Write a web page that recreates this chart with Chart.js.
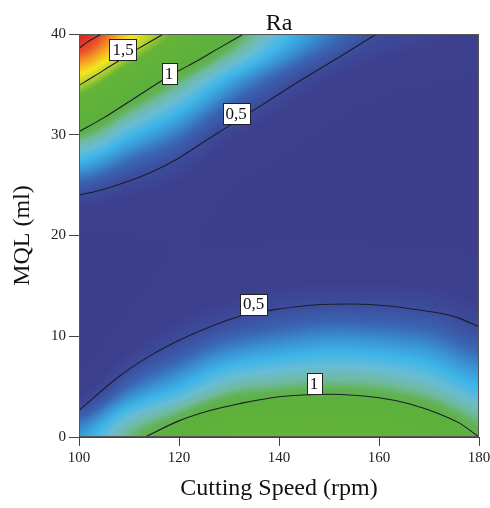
<!DOCTYPE html>
<html>
<head>
<meta charset="utf-8">
<script src="https://cdn.jsdelivr.net/npm/chart.js@4"></script>
<style>
  html, body { margin: 0; padding: 0; background: #fff; }
  #wrap { width: 490px; height: 508px; }
</style>
</head>
<body>
<div id="wrap"><canvas id="raChart" width="490" height="508"></canvas></div>
<script>
// surface: Ra at each MQL row (0..40 ml) and cutting speed column (100..180 rpm)
const speeds = [100, 110, 120, 130, 140, 150, 160, 170, 180];
const mqlLevels = [0, 5, 10, 15, 20, 25, 30, 35, 40];
const raGrid = [
    [0.68, 0.93, 1.10, 1.29, 1.33, 1.34, 1.29, 1.19, 1.00],
    [0.37, 0.59, 0.73, 0.88, 0.93, 0.95, 0.93, 0.86, 0.74],
    [0.21, 0.37, 0.48, 0.57, 0.62, 0.65, 0.64, 0.61, 0.53],
    [0.18, 0.28, 0.35, 0.38, 0.42, 0.43, 0.43, 0.42, 0.38],
    [0.30, 0.31, 0.32, 0.30, 0.30, 0.30, 0.29, 0.29, 0.28],
    [0.56, 0.47, 0.41, 0.32, 0.28, 0.25, 0.23, 0.23, 0.23],
    [0.97, 0.76, 0.61, 0.45, 0.36, 0.29, 0.25, 0.24, 0.23],
    [1.52, 1.17, 0.92, 0.69, 0.53, 0.41, 0.34, 0.31, 0.29],
    [2.21, 1.70, 1.35, 1.04, 0.79, 0.62, 0.50, 0.45, 0.39]
];

// contour lines as [speed, MQL] points
const lowerOne = [[113.2, 0], [120, 1.6], [126, 2.6], [132, 3.3], [140, 4.0], [150, 4.25], [160, 3.9], [166, 3.3], [172, 2.3], [176, 1.4], [180, 0]];
const lowerHalf = [[100, 2.65], [108, 6.0], [114, 8.0], [120, 9.6], [126, 10.9], [133, 12.1], [140, 12.7], [147, 13.1], [155, 13.2], [162, 13.0], [168, 12.6], [172, 12.3], [176, 11.8], [180, 10.95]];
const upperHalf = [[100, 24.0], [105, 24.6], [110, 25.4], [115, 26.4], [120, 27.7], [125, 29.3], [131, 31.2], [138, 33.4], [145, 35.6], [152, 37.7], [159.5, 40]];
const upperOne = [[100, 30.3], [105, 31.7], [110.7, 33.5], [118, 35.8], [124.2, 37.5], [128, 38.6], [132.9, 40]];
const upperOneHalf = [[100, 34.9], [103, 35.8], [106.2, 36.8], [112, 38.6], [116.9, 40]];
const upperTwo = [[100, 38.6], [102, 39.3], [104.5, 40]];

const contourLabels = [
    { text: '1,5', speed: 108.8, mql: 38.5 },
    { text: '1', speed: 118, mql: 36.1 },
    { text: '0,5', speed: 131.4, mql: 32.1 },
    { text: '0,5', speed: 134.9, mql: 13.2 },
    { text: '1', speed: 147, mql: 5.3 }
];

const xTicks = [100, 120, 140, 160, 180];
const yTicks = [0, 10, 20, 30, 40];

// colour ramp, value -> rgb
const colorStops = [
    [0.00, [61, 62, 140]],
    [0.42, [61, 64, 143]],
    [0.50, [60, 76, 156]],
    [0.58, [58, 100, 178]],
    [0.66, [57, 146, 211]],
    [0.74, [62, 182, 232]],
    [0.82, [104, 188, 212]],
    [0.90, [112, 186, 160]],
    [0.97, [96, 178, 82]],
    [1.05, [92, 176, 60]],
    [1.40, [100, 180, 55]],
    [1.52, [180, 208, 45]],
    [1.66, [245, 230, 30]],
    [1.84, [245, 155, 35]],
    [2.00, [235, 80, 40]],
    [2.20, [220, 35, 35]]
];

const SERIF = "'Liberation Serif', 'Times New Roman', serif";

function rampColor(v) {
    if (v <= colorStops[0][0]) return colorStops[0][1];
    for (let i = 1; i < colorStops.length; i++) {
        if (v <= colorStops[i][0]) {
            const [v0, c0] = colorStops[i - 1];
            const [v1, c1] = colorStops[i];
            const t = (v - v0) / (v1 - v0);
            return [0, 1, 2].map(k => c0[k] + (c1[k] - c0[k]) * t);
        }
    }
    return colorStops[colorStops.length - 1][1];
}

function cubic(p0, p1, p2, p3, t) {
    return p1 + 0.5 * t * (p2 - p0 + t * (2 * p0 - 5 * p1 + 4 * p2 - p3 + t * (3 * (p1 - p2) + p3 - p0)));
}

function gridAt(j, i) {
    j = Math.max(0, Math.min(mqlLevels.length - 1, j));
    i = Math.max(0, Math.min(speeds.length - 1, i));
    return raGrid[j][i];
}

function sampleRa(speed, mql) {
    const fi = (speed - speeds[0]) / (speeds[1] - speeds[0]);
    const fj = (mql - mqlLevels[0]) / (mqlLevels[1] - mqlLevels[0]);
    const i = Math.floor(fi), j = Math.floor(fj);
    const tx = fi - i, ty = fj - j;
    const rows = [];
    for (let r = -1; r <= 2; r++) {
        rows.push(cubic(gridAt(j + r, i - 1), gridAt(j + r, i), gridAt(j + r, i + 1), gridAt(j + r, i + 2), tx));
    }
    return cubic(rows[0], rows[1], rows[2], rows[3], ty);
}

const heatmapPlugin = {
    id: 'heatmap',
    beforeDatasetsDraw(chart) {
        const { ctx, chartArea: a, scales: { x, y } } = chart;
        const w = Math.round(a.right - a.left), h = Math.round(a.bottom - a.top);
        const off = document.createElement('canvas');
        off.width = w;
        off.height = h;
        const octx = off.getContext('2d');
        const img = octx.createImageData(w, h);
        for (let py = 0; py < h; py++) {
            const mql = y.getValueForPixel(a.top + (py + 0.5) * (a.bottom - a.top) / h);
            for (let px = 0; px < w; px++) {
                const sp = x.getValueForPixel(a.left + (px + 0.5) * (a.right - a.left) / w);
                const c = rampColor(sampleRa(sp, mql));
                const k = (py * w + px) * 4;
                img.data[k] = c[0];
                img.data[k + 1] = c[1];
                img.data[k + 2] = c[2];
                img.data[k + 3] = 255;
            }
        }
        octx.putImageData(img, 0, 0);
        ctx.save();
        ctx.drawImage(off, a.left, a.top, a.right - a.left, a.bottom - a.top);
        ctx.restore();
    }
};

const labelPlugin = {
    id: 'contourLabels',
    afterDatasetsDraw(chart) {
        const { ctx, scales: { x, y } } = chart;
        const a = chart.chartArea;
        ctx.save();
        ctx.font = '17px ' + SERIF;
        ctx.textAlign = 'center';
        ctx.textBaseline = 'middle';
        contourLabels.forEach(l => {
            const px = x.getPixelForValue(l.speed);
            const py = y.getPixelForValue(l.mql);
            const bw = Math.round(ctx.measureText(l.text).width + 6);
            const bh = 21;
            const bx = Math.round(px - bw / 2) + 0.5, by = Math.round(py - bh / 2) + 0.5;
            ctx.fillStyle = '#fff';
            ctx.fillRect(bx, by, bw, bh);
            ctx.strokeStyle = '#222';
            ctx.lineWidth = 1;
            ctx.strokeRect(bx, by, bw, bh);
            ctx.fillStyle = '#111';
            ctx.fillText(l.text, px, py + 1);
        });
        // frame round the plot
        ctx.strokeStyle = '#555';
        ctx.strokeRect(a.left + 0.5, a.top + 0.5, a.right - a.left - 1, a.bottom - a.top - 1);
        // title centred over the plot area
        ctx.font = '24px ' + SERIF;
        ctx.fillStyle = '#111';
        ctx.textBaseline = 'alphabetic';
        ctx.fillText('Ra', (a.left + a.right) / 2, 30);
        ctx.restore();
    }
};

const toPoints = arr => arr.map(p => ({ x: p[0], y: p[1] }));
const contourSet = arr => ({
    data: toPoints(arr),
    showLine: true,
    borderColor: '#1b1d2a',
    borderWidth: 1.1,
    pointRadius: 0,
    cubicInterpolationMode: 'monotone',
    fill: false
});

new Chart(document.getElementById('raChart'), {
    type: 'scatter',
    data: {
        datasets: [lowerOne, lowerHalf, upperHalf, upperOne, upperOneHalf, upperTwo].map(contourSet)
    },
    options: {
        responsive: false,
        animation: false,
        events: [],
        layout: { padding: { left: 0, right: 0, top: 34, bottom: 0 } },
        plugins: {
            legend: { display: false },
            tooltip: { enabled: false },
            title: { display: false }
        },
        scales: {
            x: {
                type: 'linear',
                min: 100,
                max: 180,
                afterBuildTicks: s => { s.ticks = xTicks.map(v => ({ value: v })); },
                afterFit: s => { s.height = 71; s.paddingRight = 11; },
                ticks: { color: '#222', font: { family: SERIF, size: 15 }, padding: 3 },
                grid: { drawOnChartArea: false, drawTicks: true, tickLength: 9, color: '#444' },
                border: { display: true, color: '#444' },
                title: {
                    display: true,
                    text: 'Cutting Speed (rpm)',
                    color: '#111',
                    font: { family: SERIF, size: 24 },
                    padding: { top: 0, bottom: 5 }
                }
            },
            y: {
                type: 'linear',
                min: 0,
                max: 40,
                afterBuildTicks: s => { s.ticks = yTicks.map(v => ({ value: v })); },
                afterFit: s => { s.width = 79; },
                ticks: { color: '#222', font: { family: SERIF, size: 15 }, padding: 3 },
                grid: { drawOnChartArea: false, drawTicks: true, tickLength: 10, color: '#444' },
                border: { display: true, color: '#444' },
                title: {
                    display: true,
                    text: 'MQL (ml)',
                    color: '#111',
                    font: { family: SERIF, size: 24 },
                    padding: { top: 8, bottom: 0 }
                }
            }
        }
    },
    plugins: [heatmapPlugin, labelPlugin]
});
</script>
</body>
</html>
